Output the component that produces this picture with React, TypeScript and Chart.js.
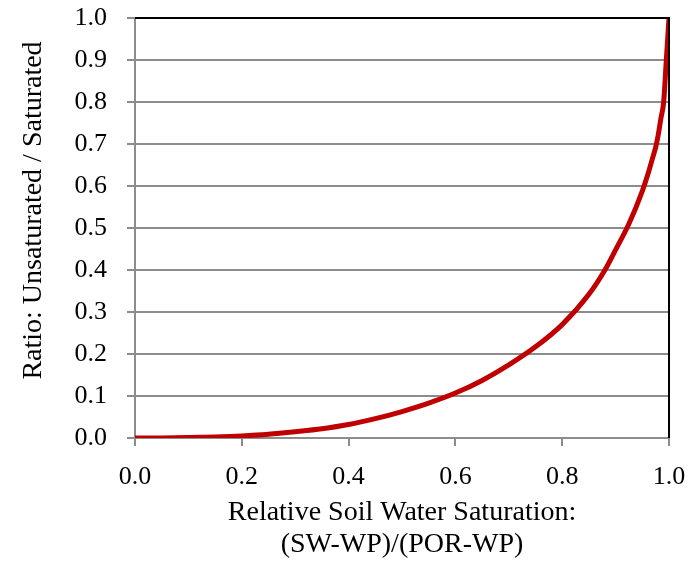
import React, { useEffect, useRef } from "react";
import { Chart, registerables } from "chart.js";

Chart.register(...registerables);

const saturation = [0, 0.05, 0.1, 0.15, 0.2, 0.25, 0.3, 0.35, 0.4, 0.45, 0.5, 0.55, 0.6, 0.65, 0.7, 0.75, 0.8, 0.85, 0.88, 0.9, 0.925, 0.95, 0.96, 0.97, 0.975, 0.98, 0.985, 0.99, 0.995, 1.0];
const ratio = [0, 0.0002, 0.001, 0.0025, 0.005, 0.009, 0.015, 0.022, 0.032, 0.046, 0.063, 0.083, 0.107, 0.137, 0.174, 0.217, 0.27, 0.342, 0.4, 0.448, 0.51, 0.588, 0.626, 0.67, 0.692, 0.723, 0.762, 0.8, 0.9, 1.0];
const xTicks = [0, 0.2, 0.4, 0.6, 0.8, 1.0];
const xTitle = ["Relative Soil Water Saturation:", "(SW-WP)/(POR-WP)"];
const yTitle = "     Ratio: Unsaturated / Saturated";

const FONT = "'Liberation Serif', 'DejaVu Serif', serif";
const GRID = "#8c8c8c";

const borderPlugin = {
  id: "topRightBorder",
  afterDatasetsDraw(chart: any) {
    const { ctx, chartArea } = chart;
    ctx.save();
    ctx.strokeStyle = "#000";
    ctx.lineWidth = 2;
    ctx.beginPath();
    ctx.moveTo(chartArea.left, chartArea.top);
    ctx.lineTo(chartArea.right, chartArea.top);
    ctx.lineTo(chartArea.right, chartArea.bottom);
    ctx.stroke();
    ctx.restore();
  },
};

export default function App() {
  const ref = useRef<HTMLCanvasElement>(null);
  useEffect(() => {
    document.body.style.margin = "0";
    const data = saturation.map((x, i) => ({ x, y: ratio[i] }));
    const chart = new Chart(ref.current!, {
      type: "line",
      data: {
        datasets: [
          {
            data,
            borderColor: "#c00000",
            borderWidth: 5,
            pointRadius: 0,
            cubicInterpolationMode: "monotone",
            fill: false,
          },
        ],
      },
      options: {
        animation: false,
        responsive: false,
        layout: { padding: { top: 18, right: 24, left: 0, bottom: 0 } },
        plugins: { legend: { display: false }, tooltip: { enabled: false } },
        scales: {
          x: {
            type: "linear",
            min: 0,
            max: 1,
            afterBuildTicks: (scale: any) => {
              scale.ticks = xTicks.map((v) => ({ value: v }));
            },
            afterFit: (scale: any) => {
              scale.height = 123;
              scale.paddingLeft = 0;
              scale.paddingRight = 0;
            },
            ticks: {
              callback: (v: any) => Number(v).toFixed(1),
              font: { family: FONT, size: 26 },
              color: "#000",
              padding: 16,
              maxRotation: 0,
              autoSkip: false,
            },
            grid: { drawOnChartArea: false, drawTicks: true, tickLength: 8, color: GRID, lineWidth: 2 },
            border: { color: GRID, width: 2 },
            title: {
              display: true,
              text: xTitle,
              font: { family: FONT, size: 28, lineHeight: 1.15 },
              color: "#000",
              padding: { top: 0, bottom: 0 },
            },
          },
          y: {
            min: 0,
            max: 1,
            afterFit: (scale: any) => {
              scale.width = 135;
              scale.paddingTop = 0;
              scale.paddingBottom = 0;
            },
            ticks: {
              stepSize: 0.1,
              callback: (v: any) => Number(v).toFixed(1),
              font: { family: FONT, size: 26 },
              color: "#000",
              padding: 20,
            },
            grid: { drawOnChartArea: true, drawTicks: true, tickLength: 8, color: GRID, lineWidth: 2 },
            border: { color: GRID, width: 2 },
            title: {
              display: true,
              text: yTitle,
              font: { family: FONT, size: 28 },
              color: "#000",
              padding: { top: 17, bottom: 0 },
            },
          },
        },
      },
      plugins: [borderPlugin],
    } as any);
    return () => chart.destroy();
  }, []);
  return (
    <div style={{ width: 693, height: 561 }}>
      <canvas ref={ref} width={693} height={561} />
    </div>
  );
}
